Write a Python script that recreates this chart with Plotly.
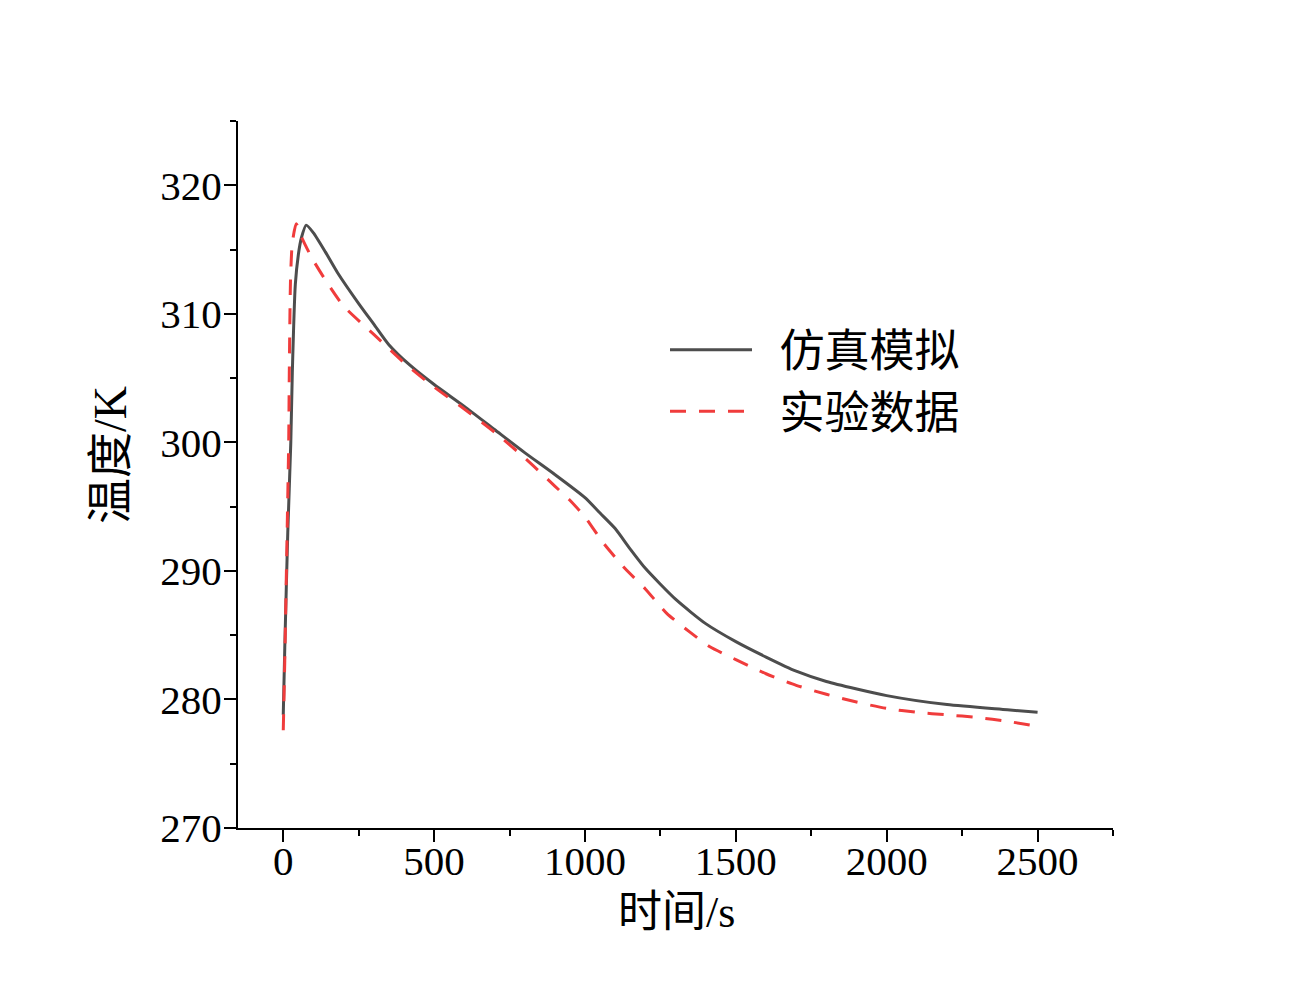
import plotly.graph_objects as go

# Simulation (仿真模拟)
sim_t = [0, 5, 15, 25, 30, 40, 50, 60, 76, 100, 140, 180, 250, 300, 350, 420, 500, 600, 700,
         800, 900, 1000, 1050, 1100, 1150, 1200, 1300, 1400, 1500, 1600, 1700, 1800,
         2000, 2200, 2400, 2500]
sim_T = [278.8, 284.0, 293.0, 300.0, 305.4, 312.3, 314.6, 315.9, 316.9, 316.3, 314.8, 313.2,
         310.8, 309.2, 307.6, 306.0, 304.5, 302.8, 301.0, 299.2, 297.5, 295.7, 294.5,
         293.3, 291.7, 290.2, 287.8, 285.9, 284.5, 283.3, 282.2, 281.4, 280.3, 279.6,
         279.2, 279.0]

# Experiment (实验数据)
exp_t = [0, 5, 12, 18, 20, 24, 30, 43, 60, 96, 146, 200, 300, 410, 500, 600, 700, 800,
         900, 950, 1000, 1060, 1132, 1200, 1271, 1350, 1414, 1500, 1600, 1700, 1800,
         1900, 2000, 2100, 2200, 2300, 2400, 2500]
exp_T = [277.6, 283.0, 292.0, 300.0, 305.4, 312.6, 315.5, 317.0, 316.0, 314.3, 312.4,
         310.6, 308.4, 306.0, 304.3, 302.6, 300.8, 298.8, 296.6, 295.5, 294.2, 292.2,
         290.2, 288.6, 286.7, 285.2, 284.1, 283.1, 282.0, 281.1, 280.4, 279.8, 279.3,
         279.0, 278.8, 278.6, 278.3, 277.9]

x_ticks = [0, 500, 1000, 1500, 2000, 2500]
y_ticks = [270, 280, 290, 300, 310, 320]
series_names = ["仿真模拟", "实验数据"]

FONT = "Liberation Serif, Times New Roman, Noto Sans CJK SC, serif"
GAP = "\u2002"

fig = go.Figure()
fig.add_trace(go.Scatter(x=sim_t, y=sim_T, mode="lines", name=GAP + series_names[0],
                         line=dict(color="#4d4d4d", width=3, shape="spline", smoothing=0.6)))
fig.add_trace(go.Scatter(x=exp_t, y=exp_T, mode="lines", name=GAP + series_names[1],
                         line=dict(color="#f03c3c", width=3, dash="16px,13px",
                                   shape="spline", smoothing=0.6)))

axis_common = dict(showline=True, linecolor="black", linewidth=2, ticks="outside",
                   ticklen=12, tickwidth=2, tickcolor="black", showgrid=False,
                   zeroline=False, mirror=False, automargin=False,
                   tickfont=dict(family=FONT, size=41, color="black"))

fig.update_layout(
    width=1308, height=1004,
    paper_bgcolor="white", plot_bgcolor="white",
    margin=dict(l=230, r=203, t=113, b=184),
    font=dict(family=FONT, color="black"),
    xaxis=dict(range=[-150, 2750], tickvals=x_ticks, ticklabelstandoff=-16,
               minor=dict(dtick=250, tick0=0, ticklen=6, tickwidth=2, tickcolor="black",
                          ticks="outside"),
               **axis_common),
    yaxis=dict(range=[270, 325], tickvals=y_ticks, ticklabelstandoff=-6,
               minor=dict(dtick=5, tick0=270, ticklen=6, tickwidth=2, tickcolor="black",
                          ticks="outside"),
               **axis_common),
    legend=dict(x=0.488, y=0.727, xanchor="left", yanchor="top",
                bgcolor="rgba(0,0,0,0)", font=dict(family=FONT, size=45, color="black"),
                itemwidth=82, tracegroupgap=0),
    showlegend=True,
    annotations=[
        dict(text="时间/s", xref="paper", yref="paper", x=(676 - 238) / 875, y=(828 - 912) / 707,
             xanchor="center", yanchor="middle", showarrow=False,
             font=dict(family=FONT, size=44, color="black")),
        dict(text="温度/K", xref="paper", yref="paper", x=(110 - 238) / 875, y=(828 - 455) / 707,
             xanchor="center", yanchor="middle", showarrow=False, textangle=-90,
             font=dict(family=FONT, size=46, color="black")),
    ],
)

fig.write_html("out.html")
